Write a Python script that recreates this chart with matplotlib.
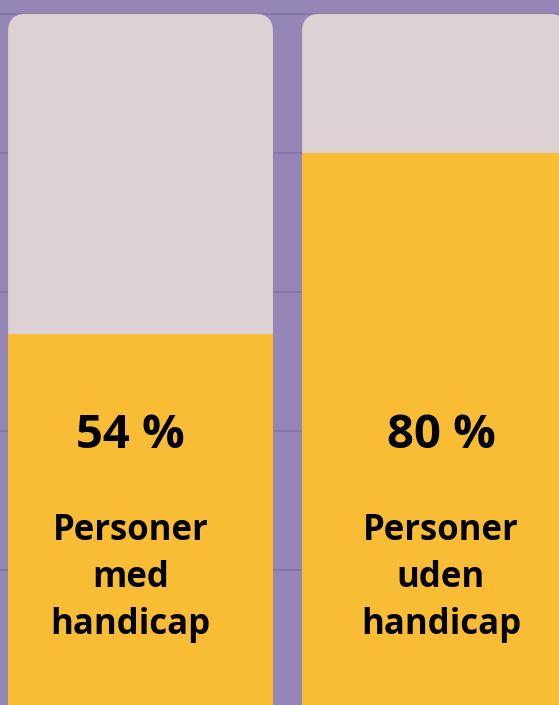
import matplotlib.pyplot as plt
from matplotlib.patches import FancyBboxPatch

# data
categories = ["Personer\nmed\nhandicap", "Personer\nuden\nhandicap"]
values = [54, 80]
value_labels = ["54 %", "80 %"]
grid_levels = [20, 40, 60, 80, 100]

bg = "#9487b5"
track = "#ddd2d3"
fill = "#f8bd35"
grid_col = "#8477a8"

plt.rcParams['font.family'] = ['Open Sans', 'DejaVu Sans']

fig = plt.figure(figsize=(5.59, 7.05), dpi=100)
fig.patch.set_facecolor(bg)
ax = fig.add_axes([0, 0, 1, 1])
ax.set_facecolor(bg)

x0, x1 = -0.478, 1.4235
y0, y1 = 0.6, 102.0
ax.set_xlim(x0, x1)
ax.set_ylim(y0, y1)

# gridlines behind the bars
for g in grid_levels:
    ax.axhline(g, color=grid_col, lw=1.2, zorder=0)

bw = 0.901
# aspect so the rounded corners come out circular
aspect = ((y1 - y0) / 705) / ((x1 - x0) / 559)
for i, v in enumerate(values):
    box = FancyBboxPatch((i - bw / 2, -20), bw, 120,
                         boxstyle="round,pad=0,rounding_size=0.06",
                         mutation_aspect=aspect,
                         facecolor=track, edgecolor="none", zorder=1)
    ax.add_patch(box)

ax.bar(range(len(values)), [v + 20 for v in values], bottom=-20, width=bw,
       color=fill, zorder=2)

offsets = [-0.034, 0.022]
for i, (lab, cat) in enumerate(zip(value_labels, categories)):
    ax.text(i + offsets[i], 39.4, lab, ha="center", va="center",
            fontsize=34, fontweight="bold", color="black", zorder=3)
    ax.text(i + offsets[i], 18.9, cat, ha="center", va="center",
            fontsize=25, fontweight="bold", color="black",
            linespacing=1.4, zorder=3)

ax.axis("off")
fig.savefig("out.png", dpi=100, facecolor=bg)
